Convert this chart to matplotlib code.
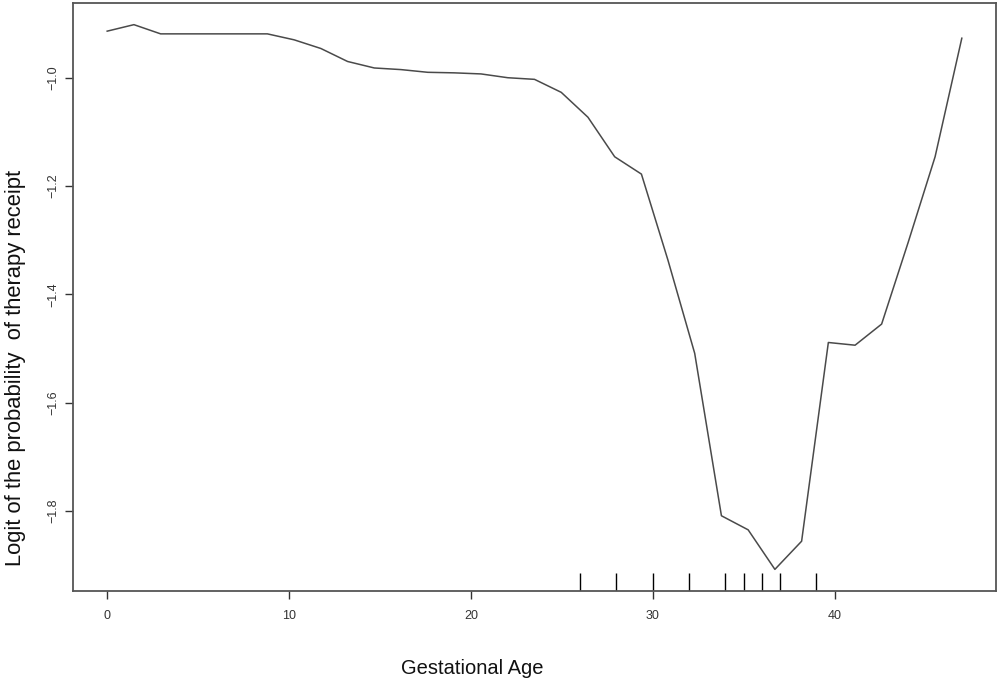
import numpy as np
import matplotlib.pyplot as plt

# partial dependence curve
gest_age = [0.0, 1.47, 2.94, 4.41, 5.88, 7.34, 8.81, 10.28, 11.75, 13.22,
            14.69, 16.16, 17.63, 19.09, 20.56, 22.03, 23.5, 24.97, 26.44,
            27.91, 29.38, 30.84, 32.31, 33.78, 35.25, 36.72, 38.19, 39.66,
            41.13, 42.59, 44.06, 45.53, 47.0]
logit = [-0.914, -0.902, -0.919, -0.919, -0.919, -0.919, -0.919, -0.930,
         -0.946, -0.970, -0.982, -0.985, -0.990, -0.991, -0.993, -1.000,
         -1.003, -1.027, -1.073, -1.146, -1.178, -1.337, -1.509, -1.809,
         -1.835, -1.908, -1.856, -1.489, -1.494, -1.455, -1.303, -1.146,
         -0.927]

# rug of observed deciles
rug_x = [26, 28, 30, 32, 34, 35, 36, 37, 39]

x_ticks = [0, 10, 20, 30, 40]
y_ticks = [-1.8, -1.6, -1.4, -1.2, -1.0]

plt.rcParams['font.family'] = ['Liberation Sans', 'DejaVu Sans']

fig = plt.figure(figsize=(10, 6.82), dpi=100)
ax = fig.add_axes([0.073, 0.1334, 0.923, 0.8622])

ax.plot(gest_age, logit, '-', color='#4a4a4a', linewidth=1.1)

ymin, ymax = -1.948, -0.862
ax.set_xlim(-1.88, 48.88)
ax.set_ylim(ymin, ymax)

# rug ticks along the bottom
ax.vlines(rug_x, ymin, ymin + 0.033, color='black', linewidth=1.0)

ax.set_xticks(x_ticks)
ax.set_xticklabels([str(v) for v in x_ticks])
ax.set_yticks(y_ticks)
ax.set_yticklabels([f'{v:.1f}'.replace('-', '\u2212') for v in y_ticks],
                   rotation=90, va='center')

ax.tick_params(axis='both', length=6, width=1.0, color='#333333',
               labelsize=9, labelcolor='#333333')
ax.tick_params(axis='x', pad=8)
ax.tick_params(axis='y', pad=4)

for s in ax.spines.values():
    s.set_color('#555555')
    s.set_linewidth(1.3)

ax.set_xlabel('Gestational Age', fontsize=14.5, color='#111111')
ax.xaxis.set_label_coords(0.433, -0.116)
ax.set_ylabel('Logit of the probability  of therapy receipt', fontsize=15.8,
              color='#111111', va='center')
ax.yaxis.set_label_coords(-0.062, 0.379)

fig.savefig('out.png', dpi=100)
